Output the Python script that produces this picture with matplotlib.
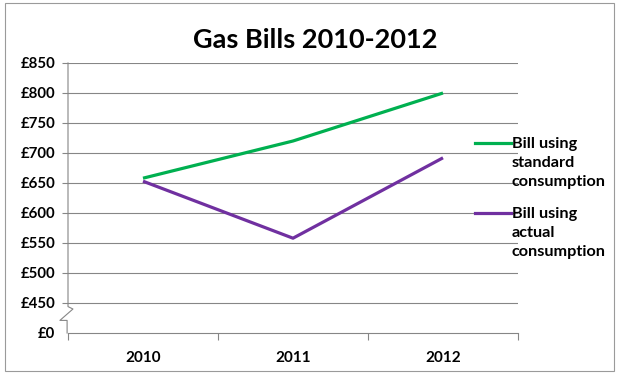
import matplotlib
matplotlib.use("Agg")
import matplotlib.pyplot as plt
from matplotlib.lines import Line2D
from matplotlib.patches import Rectangle

plt.rcParams['font.family'] = ['Lato', 'DejaVu Sans']
plt.rcParams['font.weight'] = 'bold'

years = ['2010', '2011', '2012']
standard = [658, 720, 800]
actual = [653, 558, 692]
yticks = [400, 450, 500, 550, 600, 650, 700, 750, 800, 850]
ylabels = ['£0'] + ['£%d' % v for v in yticks[1:]]

green = '#00B050'
purple = '#7030A0'
grey = '#868686'

fig = plt.figure(figsize=(6.19, 3.76), dpi=100)
W, H = 619, 376
fig.add_artist(Rectangle((5 / W, 1 - 371 / H), 609 / W, 368 / H, transform=fig.transFigure,
                         fill=False, edgecolor='#9a9a9a', lw=0.8))

ax = fig.add_axes([68 / W, 1 - 333 / H, 450 / W, 270 / H])
x = [1, 2, 3]
ax.plot(x, standard, color=green, lw=2.3, solid_capstyle='butt', zorder=3)
ax.plot(x, actual, color=purple, lw=2.3, solid_capstyle='butt', zorder=3)

ax.set_xlim(0.5, 3.5)
ax.set_ylim(400, 850)
for v in yticks[1:]:
    ax.axhline(v, color=grey, lw=0.8, zorder=1)

for s in ['top', 'right', 'left']:
    ax.spines[s].set_visible(False)
ax.spines['bottom'].set_color(grey)
ax.spines['bottom'].set_linewidth(0.8)

ax.set_yticks(yticks)
ax.set_yticklabels(ylabels, fontsize=10.8, fontweight='bold')
ax.tick_params(axis='y', length=4, width=0.8, color=grey, pad=5)
ax.yaxis.get_major_ticks()[0].tick1line.set_visible(False)

ax.set_xticks([0.5, 1.5, 2.5, 3.5])
ax.set_xticklabels([])
ax.set_xticks(x, minor=True)
ax.set_xticklabels(years, minor=True, fontsize=11, fontweight='bold')
ax.tick_params(axis='x', which='major', length=5, width=0.8, color=grey)
ax.tick_params(axis='x', which='minor', length=0, pad=13)

# left axis with break marks
tr = ax.get_yaxis_transform()
ax.add_line(Line2D([0, 0, 0.011, -0.018, -0.002, -0.002], [850, 444, 440, 421, 421, 400],
                   transform=tr, color=grey, lw=0.8, clip_on=False))

fig.text(315 / W, 1 - 40 / H, 'Gas Bills 2010-2012', ha='center', va='center',
         fontsize=19.5, fontweight='bold')

# legend
for yl, col, label in [(143, green, 'Bill using\nstandard\nconsumption'),
                       (213, purple, 'Bill using\nactual\nconsumption')]:
    fig.add_artist(Line2D([475 / W, 511 / W], [1 - yl / H, 1 - yl / H], color=col, lw=2.3,
                          transform=fig.transFigure))
    fig.text(512 / W, 1 - (yl - 6) / H, label, ha='left', va='top', fontsize=11.7,
             fontweight='bold', linespacing=1.45)

fig.savefig('out.png', dpi=100)
